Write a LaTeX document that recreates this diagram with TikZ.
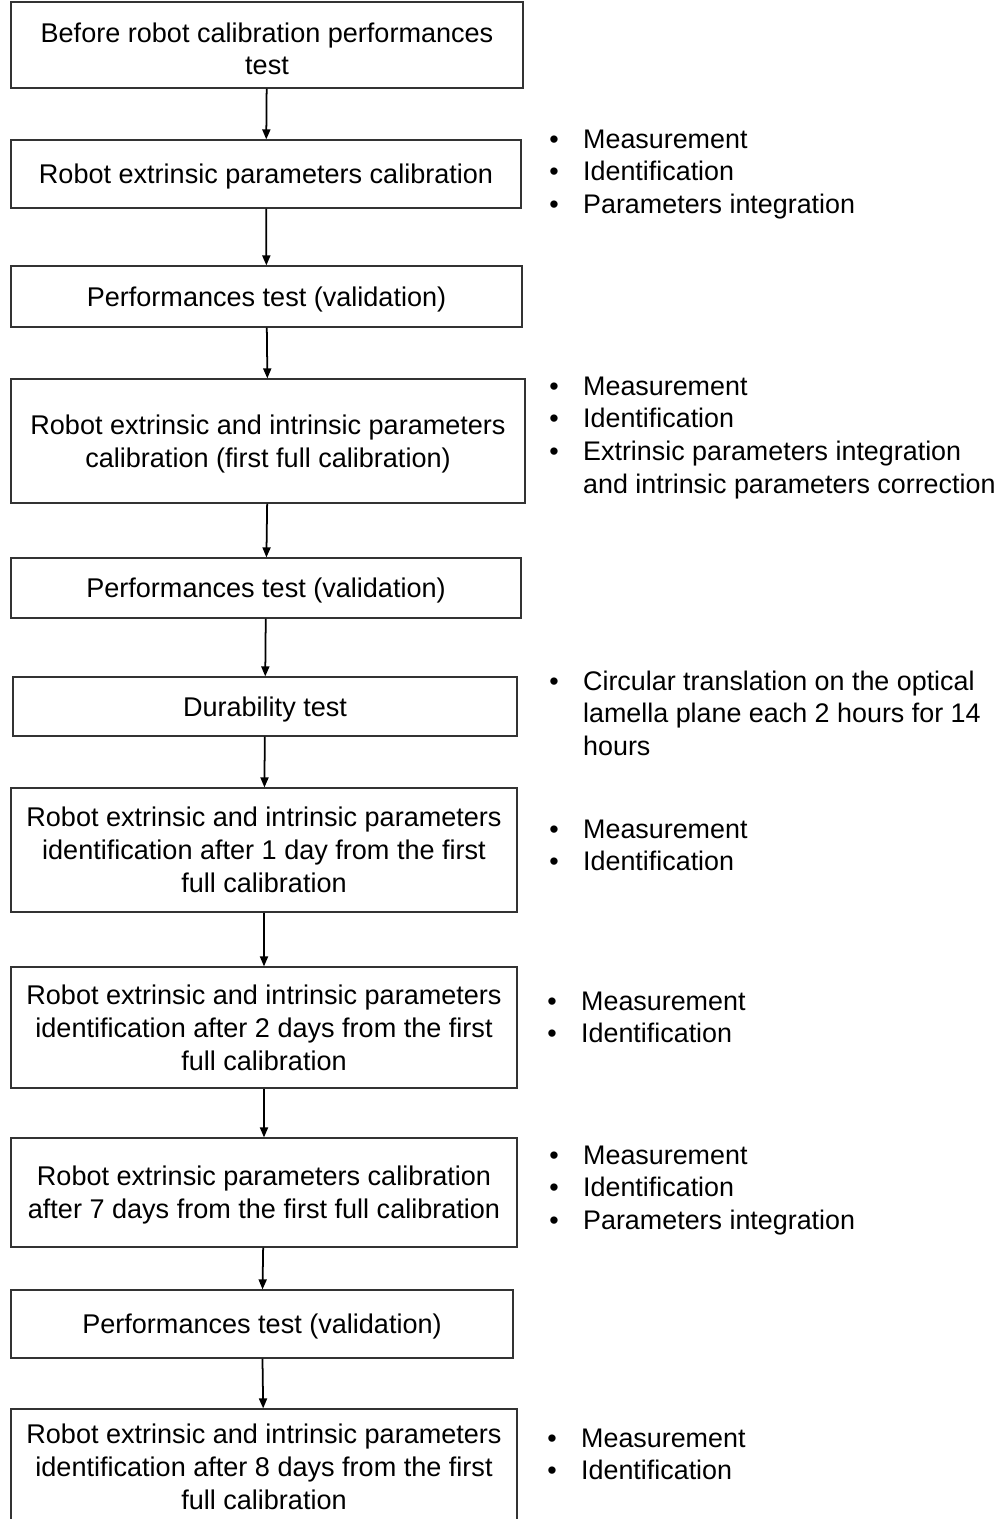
\documentclass[tikz,border=0pt]{standalone}
\usepackage{fontspec}
\setmainfont{Liberation Sans}
\usetikzlibrary{arrows.meta,positioning}
\newcommand{\bul}{\textbullet}
\newcommand{\notes}[1]{\begin{tabular}[t]{@{}l@{\hspace{13.9pt}}l@{}}#1\end{tabular}}
\tikzset{
  stepbox/.style={draw=black!80, line width=0.7pt, fill=white, align=center,
    minimum width=10.24cm, inner sep=2pt, text depth=0pt,
    font=\fontsize{15.4}{18.7}\selectfont},
  notelist/.style={anchor=base west, inner sep=0pt, font=\fontsize{15.3}{18.7}\selectfont},
  arc/.style={-{Triangle[length=2mm, width=1.6mm]}, line width=1pt},
}
\begin{document}
\begin{tikzpicture}[x=0.02cm, y=-0.02cm]
  \useasboundingbox (0,0) rectangle (999,1519);
  % steps
  \node[stepbox, minimum height=1.72cm, text height=34pt] (s1) at (267,45) {Before robot calibration performances\\test};
  \node[stepbox, minimum height=1.36cm, minimum width=10.2cm] (s2) at (266,174) {Robot extrinsic parameters calibration};
  \node[stepbox, minimum height=1.22cm, minimum width=10.22cm] (s3) at (266.5,296.5) {Performances test (validation)};
  \node[stepbox, minimum height=2.48cm, minimum width=10.28cm] (s4) at (268,441) {Robot extrinsic and intrinsic parameters\\calibration (first full calibration)};
  \node[stepbox, minimum height=1.2cm, minimum width=10.2cm] (s5) at (266,588) {Performances test (validation)};
  \node[stepbox, minimum height=1.18cm, minimum width=10.08cm] (s6) at (265,706.5) {Durability test};
  \node[stepbox, minimum height=2.48cm, minimum width=10.12cm] (s7) at (264,850) {Robot extrinsic and intrinsic parameters\\identification after 1 day from the first\\full calibration};
  \node[stepbox, minimum height=2.42cm, minimum width=10.12cm] (s8) at (264,1027.5) {Robot extrinsic and intrinsic parameters\\identification after 2 days from the first\\full calibration};
  \node[stepbox, minimum height=2.18cm, minimum width=10.12cm] (s9) at (264,1192.5) {Robot extrinsic parameters calibration\\after 7 days from the first full calibration};
  \node[stepbox, minimum height=1.36cm, minimum width=10.04cm] (s10) at (262,1324) {Performances test (validation)};
  \node[stepbox, minimum height=2.32cm, minimum width=10.12cm] (s11) at (264,1467) {Robot extrinsic and intrinsic parameters\\identification after 8 days from the first\\full calibration};
  % arrows
  \foreach \a/\b in {s1/s2, s2/s3, s3/s4, s4/s5, s5/s6, s6/s7, s7/s8, s8/s9, s9/s10, s10/s11}
    \draw[arc] (\a) -- (\b);
  % notes
  \node[notelist] (n2) at (549,148) {\notes{\bul & Measurement\\ \bul & Identification\\ \bul & Parameters integration}};
  \node[notelist] (n4) at (549,395) {\notes{\bul & Measurement\\ \bul & Identification\\ \bul & Extrinsic parameters integration\\ & and intrinsic parameters correction}};
  \node[notelist] (n6) at (549,690) {\notes{\bul & Circular translation on the optical\\ & lamella plane each 2 hours for 14\\ & hours}};
  \node[notelist] (n7) at (549,838) {\notes{\bul & Measurement\\ \bul & Identification}};
  \node[notelist] (n8) at (547,1010) {\notes{\bul & Measurement\\ \bul & Identification}};
  \node[notelist] (n9) at (549,1164) {\notes{\bul & Measurement\\ \bul & Identification\\ \bul & Parameters integration}};
  \node[notelist] (n11) at (547,1447) {\notes{\bul & Measurement\\ \bul & Identification}};
\end{tikzpicture}
\end{document}
